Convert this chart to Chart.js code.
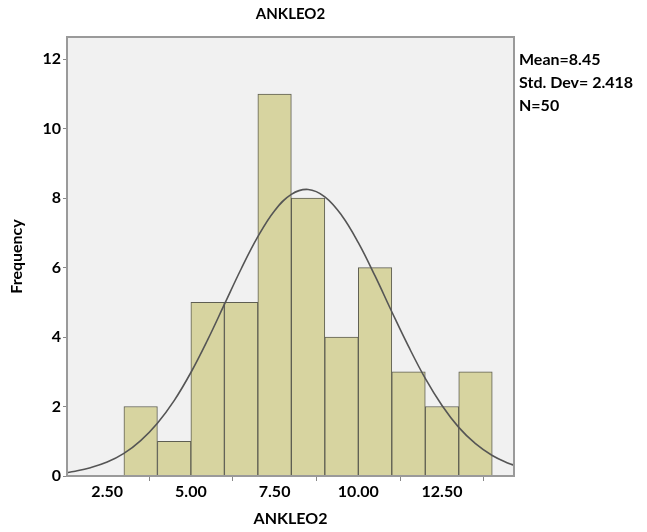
<!DOCTYPE html>
<html>
<head>
<meta charset="utf-8">
<script src="https://cdn.jsdelivr.net/npm/chart.js@4.4.1/dist/chart.umd.min.js"></script>
<style>
  html, body { margin: 0; padding: 0; background: #fff; }
  #wrap { width: 647px; height: 532px; }
</style>
</head>
<body>
<div id="wrap"><canvas id="hist"></canvas></div>
<script>
// histogram bins (centre of each 1-unit bin) and counts
var binCenters = [3.5, 4.5, 5.5, 6.5, 7.5, 8.5, 9.5, 10.5, 11.5, 12.5, 13.5]
var counts = [2, 1, 5, 5, 11, 8, 4, 6, 3, 2, 3]

// normal curve
var curveX = [1.3, 1.5, 2, 2.5, 3, 3.5, 4, 4.5, 5, 5.5, 6, 6.5, 7, 7.5, 8, 8.5, 9, 9.5, 10, 10.5, 11, 11.5, 12, 12.5, 13, 13.5, 14, 14.5, 14.65]
var curveY = [0.10, 0.13, 0.24, 0.40, 0.65, 1.02, 1.52, 2.17, 2.98, 3.92, 4.94, 5.96, 6.89, 7.64, 8.11, 8.25, 8.04, 7.51, 6.72, 5.76, 4.73, 3.73, 2.81, 2.03, 1.40, 0.93, 0.59, 0.36, 0.31]

var xTicks = [2.5, 5, 7.5, 10, 12.5]
var yTicks = [0, 2, 4, 6, 8, 10, 12]
var chartTitle = 'ANKLEO2'
var stats = ['Mean=8.45', 'Std. Dev= 2.418', 'N=50']

var fontFam = 'Lato, "Open Sans", sans-serif'

var barData = binCenters.map(function(x, i) { return {x: x, y: counts[i]} })
var lineData = curveX.map(function(x, i) { return {x: x, y: curveY[i]} })

// grey plot background + frame + title and stats text
var framePlugin = {
  id: 'frame',
  beforeDatasetsDraw: function(chart) {
    var a = chart.chartArea, c = chart.ctx
    c.save()
    c.fillStyle = '#f1f1f1'
    c.fillRect(a.left, a.top, a.right - a.left, a.bottom - a.top)
    c.restore()
  },
  afterDraw: function(chart) {
    var a = chart.chartArea, c = chart.ctx
    c.save()
    c.strokeStyle = '#9a9a9a'
    c.lineWidth = 2
    c.strokeRect(a.left, a.top, a.right - a.left, a.bottom - a.top)
    c.fillStyle = '#000'
    c.font = 'bold 15px ' + fontFam
    c.textBaseline = 'middle'
    c.textAlign = 'center'
    c.fillText(chartTitle, (a.left + a.right) / 2, 14)
    c.font = 'bold 16px ' + fontFam
    c.textAlign = 'left'
    stats.forEach(function(s, i) {
      c.fillText(s, a.right + 5, 60 + i * 23)
    })
    c.restore()
  }
}

const ctx = document.getElementById('hist')

new Chart(ctx, {
  data: {
    datasets: [{
      type: 'line',
      data: lineData,
      borderColor: '#555',
      borderWidth: 1.6,
      pointRadius: 0,
      tension: 0.4,
      fill: false,
      order: 0
    }, {
      type: 'bar',
      data: barData,
      backgroundColor: '#d7d4a0',
      borderColor: '#5e5e52',
      borderWidth: 1,
      barPercentage: 1,
      categoryPercentage: 1,
      grouped: false,
      order: 1
    }]
  },
  options: {
    responsive: true,
    maintainAspectRatio: false,
    animation: false,
    layout: { padding: { top: 37, right: 133, left: 0, bottom: 0 } },
    plugins: {
      legend: { display: false },
      tooltip: { enabled: false }
    },
    scales: {
      x: {
        type: 'linear',
        offset: false,
        min: 1.3,
        max: 14.65,
        afterBuildTicks: function(s) { s.ticks = xTicks.map(function(v) { return {value: v} }) },
        afterFit: function(s) { s.height = 56 },
        grid: { display: true, drawOnChartArea: false, tickLength: 5, color: '#888' },
        border: { display: false },
        ticks: {
          color: '#000',
          font: { family: fontFam, size: 16, weight: 'bold' },
          padding: 1,
          maxRotation: 0,
          callback: function(v) { return v.toFixed(2) }
        },
        title: {
          display: true,
          text: 'ANKLEO2',
          color: '#000',
          font: { family: fontFam, size: 16, weight: 'bold' },
          padding: { top: 2, bottom: 4 }
        }
      },
      y: {
        min: 0,
        max: 12.64,
        afterBuildTicks: function(s) { s.ticks = yTicks.map(function(v) { return {value: v} }) },
        afterFit: function(s) { s.width = 67 },
        grid: { display: true, drawOnChartArea: false, tickLength: 4, color: '#888' },
        border: { display: false },
        ticks: {
          color: '#000',
          font: { family: fontFam, size: 16, weight: 'bold' },
          padding: 2
        },
        title: {
          display: true,
          text: 'Frequency',
          color: '#000',
          font: { family: fontFam, size: 16, weight: 'bold' },
          padding: { top: 7, bottom: 0 }
        }
      }
    }
  },
  plugins: [framePlugin]
})
</script>
</body>
</html>
